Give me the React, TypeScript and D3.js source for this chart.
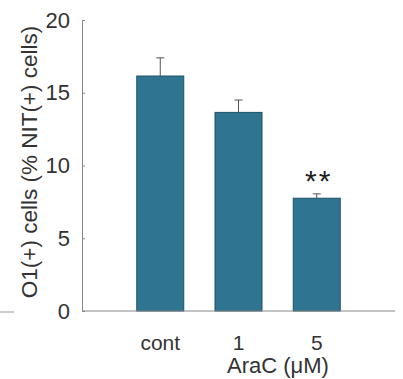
import * as d3 from 'd3';
import React, { useEffect, useRef } from 'react';

// values
const categories = ['cont', '1', '5'];
const means = [16.15, 13.65, 7.75];
const errors = [1.25, 0.85, 0.3];
const stars = ['', '', '**'];
const yTicks = [0, 5, 10, 15, 20];

const App = () => {
  const ref = useRef<SVGSVGElement>(null);

  useEffect(() => {
    const svg = d3.select(ref.current);
    svg.selectAll('*').remove();

    const left = 82, right = 395, top = 20, bottom = 311;
    const font = 'Liberation Sans, Arial, sans-serif';

    const x = d3.scalePoint().domain(categories).range([left, right]).padding(1);
    const y = d3.scaleLinear().domain([0, 20]).range([bottom, top]);
    const barW = 47;

    const data = categories.map((c, i) => ({ c, m: means[i], e: errors[i], s: stars[i] }));

    // error bars (behind the bars)
    const err = svg.append('g').attr('stroke', '#555').attr('stroke-width', 1);
    data.forEach(d => {
      const cx = x(d.c)!;
      err.append('line').attr('x1', cx).attr('x2', cx).attr('y1', y(d.m)).attr('y2', y(d.m + d.e));
      err.append('line').attr('x1', cx - 4).attr('x2', cx + 4).attr('y1', y(d.m + d.e)).attr('y2', y(d.m + d.e));
    });

    svg.append('g')
      .selectAll('rect')
      .data(data)
      .join('rect')
        .attr('x', d => x(d.c)! - barW / 2)
        .attr('width', barW)
        .attr('y', d => y(d.m))
        .attr('height', d => y(0) - y(d.m))
        .attr('fill', '#2f7592')
        .attr('stroke', '#1d5168')
        .attr('stroke-width', 1);

    // significance marks
    svg.append('g')
      .selectAll('text')
      .data(data.filter(d => d.s))
      .join('text')
        .attr('x', d => x(d.c)! + 2)
        .attr('y', d => y(d.m + d.e) - 3)
        .attr('text-anchor', 'middle')
        .attr('font-family', font)
        .attr('font-size', 30)
        .attr('letter-spacing', 2)
        .attr('fill', '#222')
        .text(d => d.s);

    // axes
    const yAxis = svg.append('g')
      .attr('transform', `translate(${left},0)`)
      .call(d3.axisLeft(y).tickValues(yTicks).tickSizeInner(-3).tickSizeOuter(0).tickPadding(12));
    yAxis.select('.domain').attr('stroke', '#888');
    yAxis.selectAll('.tick line').attr('stroke', '#888');
    yAxis.selectAll('.tick text')
      .attr('font-family', font).attr('font-size', 22).attr('fill', '#333');

    svg.append('line')
      .attr('x1', left).attr('x2', right).attr('y1', bottom).attr('y2', bottom)
      .attr('stroke', '#888');

    svg.append('g')
      .selectAll('text')
      .data(categories)
      .join('text')
        .attr('x', d => x(d)!)
        .attr('y', 343)
        .attr('dy', '0.35em')
        .attr('text-anchor', 'middle')
        .attr('font-family', font)
        .attr('font-size', 21)
        .attr('fill', '#333')
        .text(d => d);

    svg.append('text')
      .attr('x', 278)
      .attr('y', 365)
      .attr('dy', '0.35em')
      .attr('text-anchor', 'middle')
      .attr('font-family', font)
      .attr('font-size', 22)
      .attr('fill', '#333')
      .text('AraC (\u03bcM)');

    svg.append('text')
      .attr('transform', 'translate(29,162) rotate(-90)')
      .attr('dy', '0.35em')
      .attr('text-anchor', 'middle')
      .attr('font-family', font)
      .attr('font-size', 22.5)
      .attr('fill', '#333')
      .text('O1(+) cells (% NIT(+) cells)');

    // small stray mark at left edge of the scan
    svg.append('line')
      .attr('x1', 0).attr('x2', 14).attr('y1', 312).attr('y2', 312)
      .attr('stroke', '#999');
  }, []);

  return (
    <svg ref={ref} width={403} height={379}
      style={{ position: 'absolute', left: 0, top: 0, background: '#fff' }} />
  );
};

export default App;
